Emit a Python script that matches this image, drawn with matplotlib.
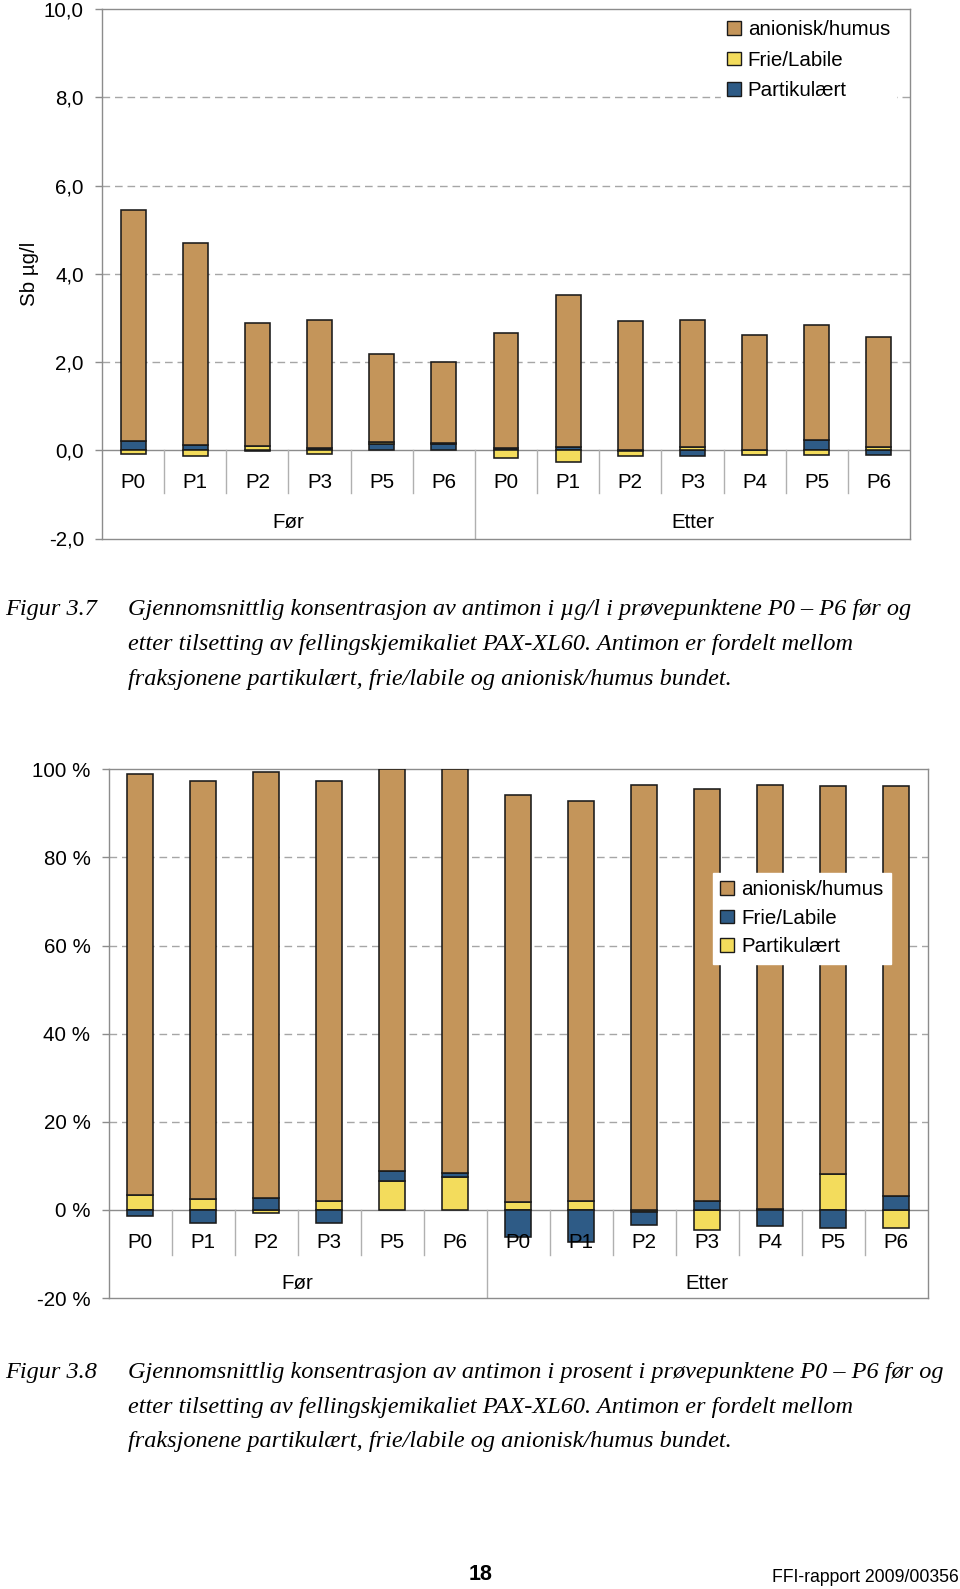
import matplotlib
matplotlib.use("Agg")
import matplotlib.pyplot as plt
import numpy as np
from matplotlib.patches import Patch
from matplotlib.ticker import FixedLocator, FuncFormatter

plt.rcParams["font.family"] = ["Liberation Sans", "DejaVu Sans"]

# categories (two levels)
points = ["P0", "P1", "P2", "P3", "P5", "P6", "P0", "P1", "P2", "P3", "P4", "P5", "P6"]
groups = ["Før", "Etter"]
group_sizes = [6, 7]

# Figur 3.7 - µg/l (series order: Partikulært, Frie/Labile, anionisk/humus)
ug_partikulaert = [0.20, 0.13, -0.02, 0.06, 0.14, 0.15, 0.05, 0.08, -0.01, -0.14, 0.01, 0.24, -0.11]
ug_frie = [-0.075, -0.13, 0.09, -0.08, 0.05, 0.02, -0.17, -0.26, -0.11, 0.07, -0.10, -0.11, 0.08]
ug_anionisk = [5.24, 4.56, 2.80, 2.89, 1.99, 1.82, 2.60, 3.43, 2.94, 2.88, 2.60, 2.59, 2.49]

# Figur 3.8 - prosent
pct_partikulaert = [3.4, 2.45, -0.6, 2.07, 6.5, 7.4, 1.7, 2.1, -0.4, -4.6, 0.2, 8.2, -4.2]
pct_frie = [-1.4, -2.9, 2.7, -2.9, 2.3, 0.9, -6.1, -7.3, -3.1, 2.07, -3.7, -4.0, 3.1]
pct_anionisk = [95.5, 94.85, 96.8, 95.3, 91.2, 91.7, 92.5, 90.8, 96.5, 93.5, 96.2, 88.1, 93.0]

BROWN = "#C4955A"
YELLOW = "#F3DC5C"
BLUE = "#2E5B86"
GRID = "#A6A6A6"
AXIS = "#8C8C8C"
FS = 14.8

W, H = 960, 1589
fig = plt.figure(figsize=(W / 100, H / 100), dpi=100)
fig.patch.set_facecolor("white")


def px_axes(left, top, right, bottom):
    return fig.add_axes([left / W, 1 - bottom / H, (right - left) / W, (bottom - top) / H])


def stacked(ax, series, colors):
    x = np.arange(len(points))
    pos = np.zeros(len(points))
    neg = np.zeros(len(points))
    for values, color in zip(series, colors):
        v = np.array(values, dtype=float)
        bottom = np.where(v >= 0, pos, neg)
        ax.bar(x, v, bottom=bottom, width=0.4, color=color, edgecolor="#1a1a1a",
               linewidth=1.15, zorder=3)
        pos = pos + np.clip(v, 0, None)
        neg = neg + np.clip(v, None, 0)


def style(ax, ymin, ymax, step, fmt, label_y, group_y, sep_y):
    n = len(points)
    ax.set_xlim(-0.5, n - 0.5)
    ax.set_ylim(ymin, ymax)
    for s in ax.spines.values():
        s.set_color(AXIS)
        s.set_linewidth(1.0)
    ax.set_xticks([])
    ax.yaxis.set_major_locator(FixedLocator(np.arange(ymin, ymax + step / 2, step)))
    ax.yaxis.set_major_formatter(FuncFormatter(fmt))
    ax.tick_params(axis="y", direction="out", length=5, width=1, color=AXIS,
                   labelsize=FS, pad=8)
    for g in np.arange(ymin + step, ymax, step):
        if g > 0:
            ax.axhline(g, color=GRID, lw=1.0, ls=(0, (5.5, 3.5)), zorder=1)
    ax.axhline(0, color=AXIS, lw=1.0, zorder=2)
    # category separators
    for i in range(n - 1):
        if i == group_sizes[0] - 1:
            ax.plot([i + 0.5, i + 0.5], [0, ymin], color="#B0B0B0", lw=1.0, zorder=2)
        else:
            ax.plot([i + 0.5, i + 0.5], [0, sep_y], color="#B0B0B0", lw=1.0, zorder=2)
    for i, p in enumerate(points):
        ax.text(i, label_y, p, ha="center", va="center", fontsize=FS, zorder=4)
    start = 0
    for g, size in zip(groups, group_sizes):
        ax.text(start + (size - 1) / 2, group_y, g, ha="center", va="center", fontsize=FS)
        start += size


# ---- Figur 3.7 ----
ax1 = px_axes(102, 9, 910, 538.5)
stacked(ax1, [ug_partikulaert, ug_frie, ug_anionisk], [BLUE, YELLOW, BROWN])
style(ax1, -2, 10, 2, lambda v, p: f"{v:.1f}".replace(".", ","), -0.73, -1.63, -0.98)
ax1.set_ylabel("Sb µg/l", fontsize=FS)
ax1.yaxis.set_label_coords(-0.078, 0.5)
h1 = [Patch(facecolor=c, edgecolor="#1a1a1a", lw=1.0) for c in (BROWN, YELLOW, BLUE)]
leg1 = ax1.legend(h1, ["anionisk/humus", "Frie/Labile", "Partikulært"],
                  loc="upper left", bbox_to_anchor=(721 / W, 1 - 14 / H),
                  bbox_transform=fig.transFigure, fontsize=FS, frameon=True,
                  facecolor="white", edgecolor="white", fancybox=False, framealpha=1,
                  handlelength=0.65, handleheight=0.65, handletextpad=0.35,
                  labelspacing=0.56, borderpad=0.3, borderaxespad=0)
leg1.set_zorder(5)

# ---- Figur 3.8 ----
ax2 = px_axes(108.5, 769.3, 927.5, 1298)
stacked(ax2, [pct_partikulaert, pct_frie, pct_anionisk], [YELLOW, BLUE, BROWN])
style(ax2, -20, 100, 20, lambda v, p: f"{v:.0f} %", -7.4, -16.7, -10.3)
h2 = [Patch(facecolor=c, edgecolor="#1a1a1a", lw=1.0) for c in (BROWN, BLUE, YELLOW)]
leg2 = ax2.legend(h2, ["anionisk/humus", "Frie/Labile", "Partikulært"],
                  loc="upper left", bbox_to_anchor=(713 / W, 1 - 873 / H),
                  bbox_transform=fig.transFigure, fontsize=FS, frameon=True,
                  facecolor="white", edgecolor="white", fancybox=False, framealpha=1,
                  handlelength=0.65, handleheight=0.65, handletextpad=0.35,
                  labelspacing=0.46, borderpad=0.36, borderaxespad=0)
leg2.set_zorder(5)

# ---- captions ----
cap_font = dict(family=["Liberation Serif", "DejaVu Serif"], style="italic", fontsize=17.5,
                va="center", ha="left")
cap1 = ["Gjennomsnittlig konsentrasjon av antimon i µg/l i prøvepunktene P0 – P6 før og",
        "etter tilsetting av fellingskjemikaliet PAX-XL60. Antimon er fordelt mellom",
        "fraksjonene partikulært, frie/labile og anionisk/humus bundet."]
cap2 = ["Gjennomsnittlig konsentrasjon av antimon i prosent i prøvepunktene P0 – P6 før og",
        "etter tilsetting av fellingskjemikaliet PAX-XL60. Antimon er fordelt mellom",
        "fraksjonene partikulært, frie/labile og anionisk/humus bundet."]
for fig_label, lines, y0 in (("Figur 3.7", cap1, 610), ("Figur 3.8", cap2, 1372.5)):
    fig.text(5 / W, 1 - y0 / H, fig_label, **cap_font)
    for k, line in enumerate(lines):
        fig.text(128.5 / W, 1 - (y0 + k * 34.6) / H, line, **cap_font)

# ---- footer ----
fig.text(481 / W, 1 - 1575 / H, "18", ha="center", va="center", fontsize=15.5, weight="bold")
fig.text(959 / W, 1 - 1577 / H, "FFI-rapport 2009/00356", ha="right", va="center", fontsize=12.7)

fig.savefig("out.png", dpi=100, facecolor="white")
